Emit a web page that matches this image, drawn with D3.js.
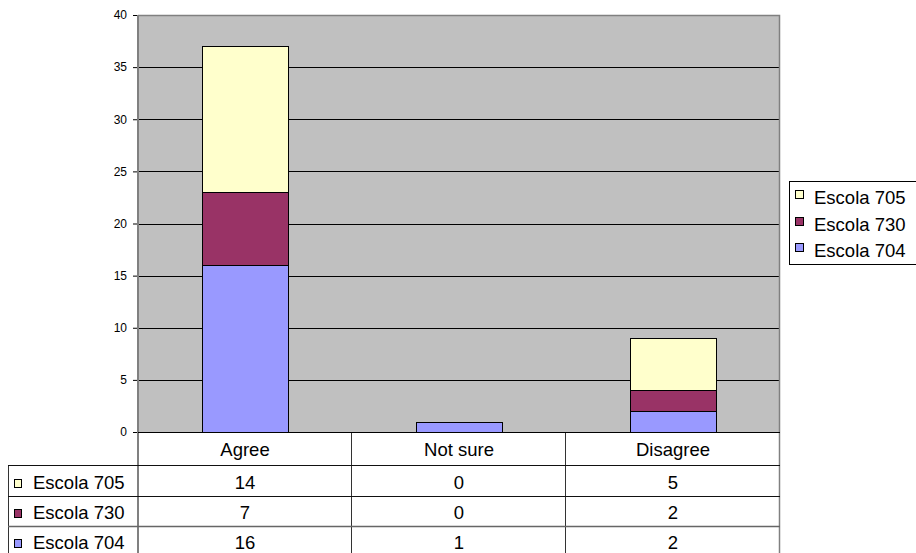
<!DOCTYPE html>
<html>
<head>
<meta charset="utf-8">
<script src="https://cdn.jsdelivr.net/npm/d3@7"></script>
<style>
  html, body { margin: 0; padding: 0; background: #fff; }
  svg { display: block; font-family: "Liberation Sans", Arial, sans-serif; }
</style>
</head>
<body>
<svg id="chart" width="916" height="553"></svg>
<script>
// Survey answers per school
const categories = ["Agree", "Not sure", "Disagree"];
const seriesNames = ["Escola 704", "Escola 730", "Escola 705"];   // stacking order, bottom to top
const escola704 = [16, 1, 2];
const escola730 = [7, 0, 2];
const escola705 = [14, 0, 5];
const seriesColors = ["#9999FF", "#993366", "#FFFFCC"];
const yTicks = [0, 5, 10, 15, 20, 25, 30, 35, 40];

const seriesValues = [escola704, escola730, escola705];
const rows = categories.map((c, i) => {
  const r = { category: c };
  seriesNames.forEach((s, k) => { r[s] = seriesValues[k][i]; });
  return r;
});

const svg = d3.select("#chart");
const plot = { left: 138, right: 780, top: 15, bottom: 432 };

const x = d3.scaleBand().domain(categories).range([plot.left, plot.right]);
const y = d3.scaleLinear().domain([0, 40]).range([plot.bottom, plot.top]);
const color = d3.scaleOrdinal().domain(seriesNames).range(seriesColors);

// plot background
svg.append("rect")
  .attr("x", plot.left).attr("y", plot.top)
  .attr("width", plot.right - plot.left).attr("height", plot.bottom - plot.top)
  .attr("fill", "#C0C0C0");

// horizontal gridlines
svg.append("g").selectAll("line")
  .data(yTicks.filter(t => t > 0 && t < 40))
  .join("line")
  .attr("x1", plot.left).attr("x2", plot.right)
  .attr("y1", d => Math.round(y(d)) + 0.5).attr("y2", d => Math.round(y(d)) + 0.5)
  .attr("stroke", "#000").attr("stroke-width", 1);

// plot frame (top and right)
svg.append("path")
  .attr("d", `M${plot.left},${plot.top + 0.5}H${plot.right - 0.5}V${plot.bottom}`)
  .attr("fill", "none").attr("stroke", "#808080").attr("stroke-width", 1.5);

// stacked bars
const stack = d3.stack().keys(seriesNames);
const stacked = stack(rows);
const barW = x.bandwidth() * 0.4;
svg.append("g").selectAll("g")
  .data(stacked)
  .join("g")
  .attr("fill", d => color(d.key))
  .selectAll("rect")
  .data(d => d.filter(p => p[1] - p[0] > 0))
  .join("rect")
  .attr("x", d => Math.round(x(d.data.category) + (x.bandwidth() - barW) / 2) + 0.5)
  .attr("width", Math.round(barW))
  .attr("y", d => Math.round(y(d[1])) + 0.5)
  .attr("height", d => Math.round(y(d[0])) - Math.round(y(d[1])))
  .attr("stroke", "#000").attr("stroke-width", 1);

// y axis
const yAxis = d3.axisLeft(y).tickValues(yTicks).tickSize(5).tickPadding(6);
const ya = svg.append("g").attr("transform", `translate(${plot.left},0)`).call(yAxis);
ya.select(".domain").remove();
ya.selectAll(".tick line").attr("stroke", "#000");
ya.selectAll(".tick text").attr("font-size", 12).attr("fill", "#000")
  .attr("font-family", "'Liberation Sans', Arial, sans-serif");
svg.append("line")
  .attr("x1", plot.left).attr("x2", plot.left)
  .attr("y1", plot.top).attr("y2", 553)
  .attr("stroke", "#808080").attr("stroke-width", 2);

// data table below the plot
const tableLeft = 8;
const rowLines = [465, 496, 526];
const tableRows = [escola705, escola730, escola704];
const tableNames = ["Escola 705", "Escola 730", "Escola 704"];
const tbl = svg.append("g");

// column dividers
const colEdges = categories.map(c => x(c)).concat([plot.right]);
tbl.selectAll("line.col")
  .data(colEdges.slice(1))
  .join("line")
  .attr("class", "col")
  .attr("x1", d => Math.round(d) - 0.5).attr("x2", d => Math.round(d) - 0.5)
  .attr("y1", plot.bottom).attr("y2", 553)
  .attr("stroke", (d, i) => i === colEdges.length - 2 ? "#808080" : "#333")
  .attr("stroke-width", (d, i) => i === colEdges.length - 2 ? 1.5 : 1);
tbl.append("line")
  .attr("x1", tableLeft + 0.5).attr("x2", tableLeft + 0.5)
  .attr("y1", rowLines[0]).attr("y2", 553)
  .attr("stroke", "#333");

// row dividers
tbl.selectAll("line.row")
  .data(rowLines)
  .join("line")
  .attr("class", "row")
  .attr("x1", tableLeft).attr("x2", plot.right)
  .attr("y1", d => d + 0.5).attr("y2", d => d + 0.5)
  .attr("stroke", (d, i) => i === 2 ? "#666" : "#111")
  .attr("stroke-width", (d, i) => i === 2 ? 1.5 : 1);

// zero baseline
svg.append("line")
  .attr("x1", plot.left).attr("x2", plot.right)
  .attr("y1", plot.bottom + 0.5).attr("y2", plot.bottom + 0.5)
  .attr("stroke", "#000");

// category header
tbl.selectAll("text.cat")
  .data(categories)
  .join("text")
  .attr("class", "cat")
  .attr("x", d => x(d) + x.bandwidth() / 2)
  .attr("y", 456)
  .attr("text-anchor", "middle")
  .attr("font-size", 18.5)
  .text(d => d);

// row labels with colour keys and values
const baselines = [489, 519, 549];
tableRows.forEach((vals, r) => {
  const name = tableNames[r];
  tbl.append("rect")
    .attr("x", 14.5).attr("y", baselines[r] - 9.5)
    .attr("width", 7).attr("height", 8)
    .attr("fill", color(name)).attr("stroke", "#000").attr("stroke-width", 1);
  tbl.append("text")
    .attr("x", 33).attr("y", baselines[r])
    .attr("font-size", 18.5)
    .text(name);
  tbl.selectAll(null)
    .data(vals)
    .join("text")
    .attr("x", (d, i) => x(categories[i]) + x.bandwidth() / 2)
    .attr("y", baselines[r])
    .attr("text-anchor", "middle")
    .attr("font-size", 18.5)
    .text(d => d);
});

// legend
const legend = svg.append("g");
legend.append("rect")
  .attr("x", 789.5).attr("y", 181.5)
  .attr("width", 130).attr("height", 83)
  .attr("fill", "#fff").attr("stroke", "#000");
const legendOrder = ["Escola 705", "Escola 730", "Escola 704"];
const legendBase = [204, 231, 257];
legendOrder.forEach((name, i) => {
  legend.append("rect")
    .attr("x", 795.5).attr("y", legendBase[i] - 13.5)
    .attr("width", 8).attr("height", 8)
    .attr("fill", color(name)).attr("stroke", "#000");
  legend.append("text")
    .attr("x", 814).attr("y", legendBase[i])
    .attr("font-size", 18.5)
    .text(name);
});
</script>
</body>
</html>
